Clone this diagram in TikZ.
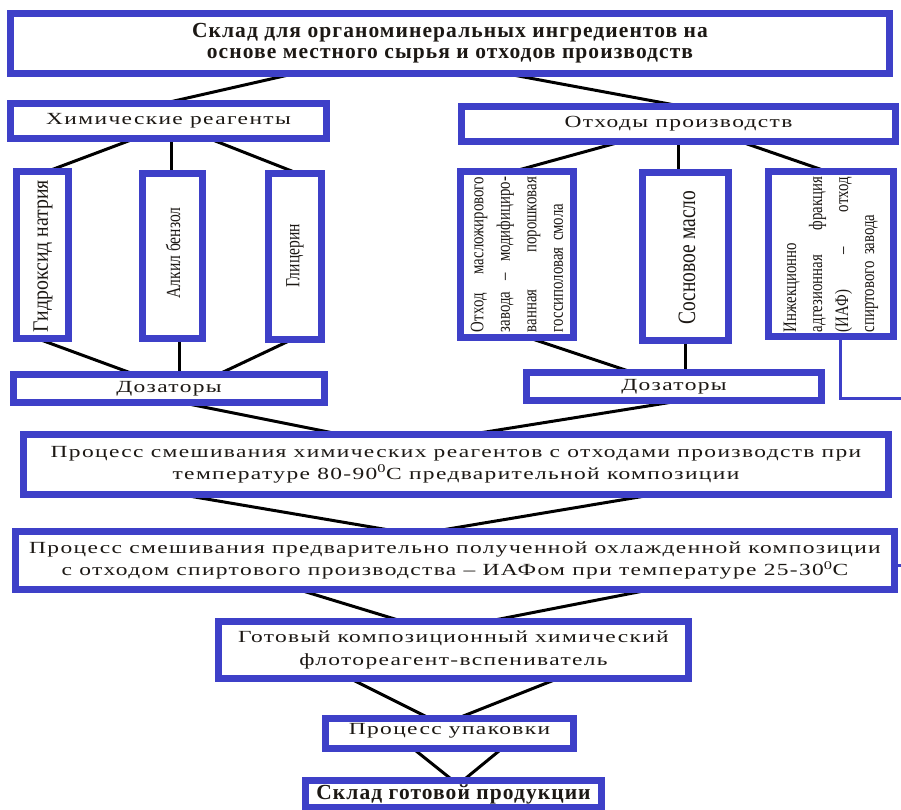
\documentclass[tikz,border=0pt]{standalone}
\usepackage{fontspec}
\setmainfont{Liberation Serif}
\newfontfamily\widefont[FakeStretch=1.38,LetterSpace=8]{Liberation Serif}
\newfontfamily\boldwide[FakeStretch=1.0,LetterSpace=5]{Liberation Serif}
\newfontfamily\condfont[FakeStretch=0.78]{Liberation Serif}
\newfontfamily\condfontB[FakeStretch=0.9]{Liberation Serif}
\usetikzlibrary{calc}
\definecolor{boxblue}{RGB}{62,64,200}
\definecolor{ink}{RGB}{28,24,20}
\pgfdeclarelayer{bg}
\pgfsetlayers{bg,main}
\begin{document}
\begin{tikzpicture}[x=1pt,y=-1pt,
  box/.style={draw=boxblue, line width=7pt, fill=white, inner sep=0pt, outer sep=0pt, text=ink, align=center},
  conn/.style={draw=black, line width=3pt},
  iafline/.style={draw=boxblue, line width=3pt},
  vtext/.style={rotate=90, inner sep=0pt, text=ink},
  wtext/.style={font=\widefont\fontsize{17}{22}\selectfont},
  btext/.style={font=\boldwide\bfseries\fontsize{21.5}{21}\selectfont}
]
\useasboundingbox (0,0) rectangle (901,809);
\clip (0,0) rectangle (901,809);

% boxes
\node[box, btext, minimum width=879pt, minimum height=60pt] (top) at (450,43.5)
  {Склад для органоминеральных ингредиентов на\\основе местного сырья и отходов производств};
\node[box, wtext, minimum width=316pt, minimum height=35pt] (chem) at (168.5,121) {Химические реагенты};
\node[box, wtext, minimum width=434pt, minimum height=35pt] (waste) at (678.5,124) {Отходы производств};

\node[box, minimum width=52pt, minimum height=167pt] (naoh) at (42.5,255) {};
\node[box, minimum width=60pt, minimum height=165pt] (alk) at (172.5,256) {};
\node[box, minimum width=53pt, minimum height=166pt] (gly) at (295,256.5) {};
\node[box, minimum width=113pt, minimum height=166pt] (oil) at (517,254.5) {};
\node[box, minimum width=86pt, minimum height=168pt] (pine) at (685.5,256.5) {};
\node[box, minimum width=125pt, minimum height=165pt] (iaf) at (831,254) {};

\node[vtext, font=\condfontB\fontsize{22}{22}\selectfont] (naohT) at (43,256) {Гидроксид натрия};
\node[vtext, font=\condfont\fontsize{20}{20}\selectfont] (alkT) at (173,253) {Алкил бензол};
\node[vtext, font=\condfont\fontsize{20}{20}\selectfont] (glyT) at (295,256) {Глицерин};
\node[vtext, font=\condfont\fontsize{25}{25}\selectfont] (pineT) at (687,257.5) {Сосновое масло};
\node[vtext, text width=155pt, align=left, font=\condfont\fontsize{19}{26.5}\selectfont] (oilT) at (517,254.5)
  {Отход\hfill масложирового\\завода\hfill –\hfill модифициро-\\ванная\hfill порошковая\\госсиполовая смола};
\node[vtext, text width=155pt, align=left, font=\condfont\fontsize{19}{26}\selectfont] (iafT) at (831,254.5)
  {Инжекционно\\адгезионная\hfill фракция\\(ИАФ)\hfill –\hfill отход\\спиртового завода};

\node[box, wtext, minimum width=311pt, minimum height=28pt] (dosL) at (169,388.5) {Дозаторы};
\node[box, wtext, minimum width=295pt, minimum height=28pt] (dosR) at (674,386.5) {Дозаторы};

\node[box, wtext, minimum width=865pt, minimum height=60pt] (mix1) at (456,464.5)
  {Процесс смешивания химических реагентов с отходами производств при\\температуре 80-90\textsuperscript{0}C предварительной композиции};
\node[box, wtext, minimum width=879pt, minimum height=58pt] (mix2) at (455,560.5)
  {Процесс смешивания предварительно полученной охлажденной композиции\\с отходом спиртового производства – ИАФом при температуре 25-30\textsuperscript{0}C};
\node[box, wtext, font=\widefont\fontsize{17}{23}\selectfont, minimum width=470pt, minimum height=57pt] (ready) at (453.5,650)
  {Готовый композиционный химический\\флотореагент-вспениватель};
\node[box, wtext, minimum width=248pt, minimum height=30pt, text depth=10pt] (pack) at (449.5,733.5) {Процесс упаковки};
\node[box, btext, minimum width=296pt, minimum height=27pt] (store) at (453.5,794) {Склад готовой продукции};

\begin{pgfonlayer}{bg}
\draw[conn] ([xshift=-155pt]top.south) -- ([xshift=-5.5pt]chem.north);
\draw[conn] ([xshift=55pt]top.south) -- ([xshift=4.5pt]waste.north);
\draw[conn] ([xshift=-33.5pt]chem.south) -- ([xshift=4.5pt]naoh.north);
\draw[conn] ([xshift=2.5pt]chem.south) -- ([xshift=-1.5pt]alk.north);
\draw[conn] ([xshift=40.5pt]chem.south) -- ([xshift=3pt]gly.north);
\draw[conn] ([xshift=-5.5pt]naoh.south) -- ([xshift=-34pt]dosL.north);
\draw[conn] ([xshift=6.5pt]alk.south) -- ([xshift=10pt]dosL.north);
\draw[conn] ([xshift=-3pt]gly.south) -- ([xshift=49pt]dosL.north);
\draw[conn] ([xshift=-56.5pt]waste.south) -- ([xshift=-4pt]oil.north);
\draw[conn] ([xshift=-0.5pt]waste.south) -- ([xshift=-7.5pt]pine.north);
\draw[conn] ([xshift=61.5pt]waste.south) -- ([xshift=-4pt]iaf.north);
\draw[conn] ([xshift=11pt]oil.south) -- ([xshift=-41pt]dosR.north);
\draw[conn] ([xshift=-0.5pt]pine.south) -- ([xshift=11pt]dosR.north);
\draw[conn] ([xshift=12pt]dosL.south) -- ([xshift=-115pt]mix1.north);
\draw[conn] ([xshift=8pt]dosR.south) -- ([xshift=14pt]mix1.north);
\draw[conn] ([xshift=-276pt]mix1.south) -- ([xshift=-57pt]mix2.north);
\draw[conn] ([xshift=198pt]mix1.south) -- ([xshift=-22pt]mix2.north);
\draw[conn] ([xshift=-157pt]mix2.south) -- ([xshift=-50.5pt]ready.north);
\draw[conn] ([xshift=196pt]mix2.south) -- ([xshift=33.5pt]ready.north);
\draw[conn] ([xshift=-103.5pt]ready.south) -- ([xshift=-19.5pt]pack.north);
\draw[conn] ([xshift=104.5pt]ready.south) -- ([xshift=7.5pt]pack.north);
\draw[conn] ([xshift=-36.5pt]pack.south) -- ([xshift=-0.5pt]store.north);
\draw[conn] ([xshift=52.5pt]pack.south) -- ([xshift=9.5pt]store.north);
\draw[iafline] ([xshift=9pt]iaf.south) -- ++(0,61.5) -- ++(80,0) |- ([yshift=-4.5pt]mix2.east);
\end{pgfonlayer}
\end{tikzpicture}
\end{document}
